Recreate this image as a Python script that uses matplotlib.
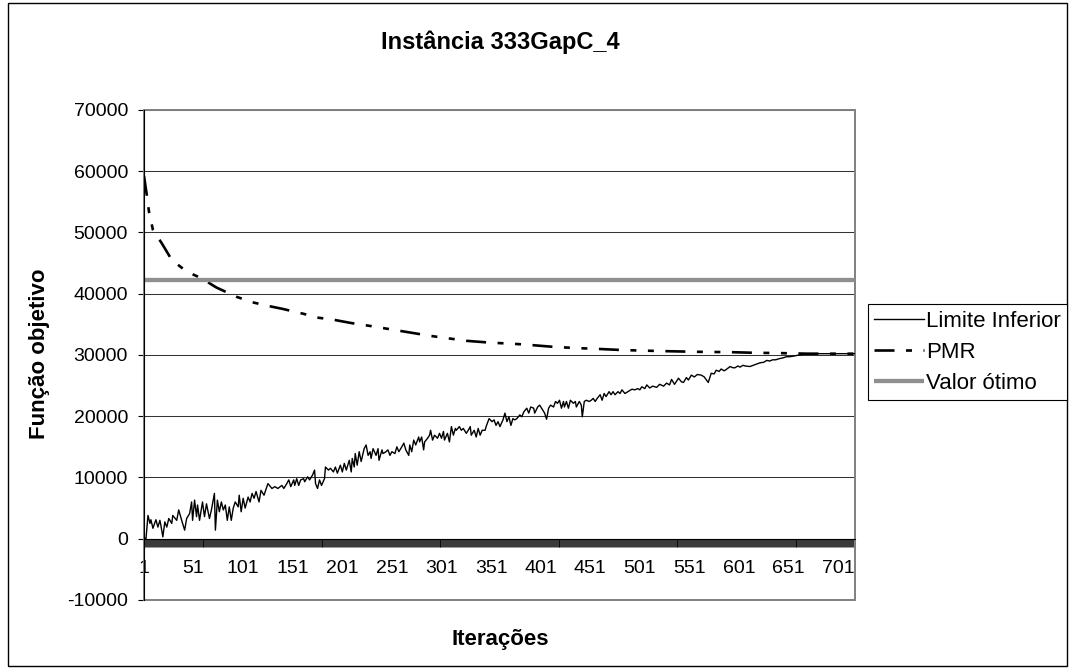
import matplotlib
matplotlib.use('Agg')
import matplotlib.pyplot as plt
from matplotlib.patches import Rectangle
from matplotlib.ticker import FixedLocator, NullFormatter

plt.rcParams['font.family'] = ['Liberation Sans', 'DejaVu Sans']
plt.rcParams['lines.scale_dashes'] = False

# ---------------- data ----------------
title = "Instância 333GapC_4"
x_title = "Iterações"
y_title = "Função objetivo"
series_names = ["Limite Inferior", "PMR", "Valor ótimo"]

n_iter = 718
x_tick_labels = [1, 51, 101, 151, 201, 251, 301, 351, 401, 451, 501, 551, 601, 651, 701]
y_ticks = [-10000, 0, 10000, 20000, 30000, 40000, 50000, 60000, 70000]

lb_iter = [1, 3, 5, 7, 8, 10, 13, 15, 17, 18, 20, 22, 24, 26, 29, 30, 34, 36, 39, 42,
           44, 47, 49, 50, 52, 54, 55, 57, 60, 62, 64, 67, 69, 72, 73, 75, 77, 79, 81, 83,
           85, 87, 89, 91, 93, 96, 97, 99, 101, 103, 106, 108, 110, 112, 114, 117, 119, 122,
           125, 126, 130, 133, 136, 140, 142, 145, 147, 149, 152, 153, 155, 157, 159, 162, 163,
           166, 168, 171, 173, 174, 176, 178, 180, 183, 184, 187, 189, 192, 194, 196, 199, 201,
           203, 205, 208, 210, 211, 213, 214, 216, 218, 220, 223, 225, 227, 229, 230, 232, 235,
           237, 238, 241, 242, 245, 247, 249, 251, 254,
           256, 258, 261, 263, 265, 268, 269, 271, 273, 275, 278, 279, 281, 283, 284, 287, 289,
           290, 292, 294, 297, 299, 301, 303, 304, 307, 309, 311, 313, 315, 316, 319, 321, 323,
           326, 328, 330, 331, 334, 336, 338, 340, 342, 345, 346, 349, 352, 354, 356, 358, 360,
           363, 365, 367, 369, 371, 373, 375, 377, 380,
           382, 384, 387, 389, 391, 394, 395, 398, 400, 403, 405, 407, 409, 411, 414, 416, 418,
           420, 422, 424, 425, 427, 429, 431, 434, 436, 437, 440, 442, 443, 445, 447, 450, 452,
           454, 456, 458, 461, 463, 465, 467, 470, 472, 474, 476, 479, 481, 483, 486, 489, 491,
           493, 496, 499, 501, 503, 506,
           508, 511, 514, 518, 521, 525, 528, 531, 533, 536, 540, 543, 545, 548, 550, 553, 556,
           559, 563, 566, 570, 573, 576, 578, 581, 583, 586, 588, 592, 595, 597, 600, 602, 605,
           607, 612, 617, 622, 626, 629, 632, 635, 638, 642, 645, 649, 652, 656, 659, 662, 666,
           669, 675, 682, 690, 700, 710, 718]
lb_values = [200, 0, 3800, 2500, 3100, 1700, 3100, 1900, 3000, 2200, 300, 2750, 1900, 3300, 2500, 3800, 3000, 4700, 3000, 1400,
             3300, 4100, 6000, 3000, 6300, 3600, 5500, 3000, 6000, 3600, 5700, 3300, 4700, 7400, 1400, 6300, 4400, 6000, 4700, 5500,
             3000, 5200, 3000, 5000, 6000, 5200, 7100, 4400, 6600, 5000, 6800, 6000, 7400, 6600, 7700, 6000, 7900, 7100,
             8500, 9000, 8200, 8500, 8200, 8700, 8200, 9000, 9600, 8500, 9600, 8700, 9800, 8700, 9600, 9800, 9300,
             10100, 9600, 10400, 11200, 9000, 8200, 9600, 8700, 9800, 11700, 11200, 11500, 10900, 11700, 10700, 12000, 10900,
             12300, 11200, 12800, 10900, 13100, 11700, 13900, 12000, 14200, 12600, 14700, 15300, 13600, 14200, 13100, 14700, 13600,
             14700, 12800, 14500, 13900, 14200, 14500, 13600, 14200, 13900,
             15000, 14200, 15000, 15600, 14500, 13600, 15300, 14200, 16100, 15300, 16600, 15800, 16600, 14500, 15800, 16400, 16900,
             17700, 16100, 16900, 16400, 17200, 16400, 17500, 16100, 17200, 15800, 18300, 16900, 18000, 17700, 18300, 17700, 18000,
             17200, 17700, 18300, 16900, 17700, 16600, 18000, 16900, 17700, 17700, 18300, 19600, 19100, 19400, 18500, 19100, 18300,
             19400, 20500, 19100, 19900, 18500, 19600, 19400, 19600, 20200,
             19900, 20700, 21300, 20500, 21500, 21300, 20500, 21500, 21800, 21000, 20500, 19500, 21300, 21800, 21500, 22400, 22100,
             22600, 21300, 22400, 21500, 22400, 21300, 22600, 22100, 22400, 21500, 22400, 21800, 19900, 22400, 22600, 22400, 22600,
             22900, 22400, 22900, 23500, 22600, 23700, 23200, 24000, 23500, 24000, 23500, 24000, 23700, 24300, 23700, 24000, 24200,
             24400, 24300, 24500, 24300, 24800, 24500,
             25100, 24600, 24900, 24700, 25200, 24900, 25400, 25100, 26000, 25200, 26200, 25600, 25500, 26300, 25900, 26700, 26400,
             26800, 26700, 26400, 25500, 27000, 26900, 27500, 27300, 27700, 27400, 27600, 28100, 27900, 27900, 28200, 28000, 28300,
             28200, 28100, 28400, 28700, 28800, 29100, 29000, 29200, 29200, 29400, 29500, 29700, 29700, 29800, 29900, 30000, 30100,
             30100, 30200, 30200, 30200, 30200, 30200, 30200]

pmr_iter = [1, 4, 6, 10, 19, 29, 44, 59, 74, 94, 110, 126, 141, 162, 175, 190, 210, 230, 260, 290,
            326, 350, 375, 392, 415, 439, 456, 482, 504, 530, 560, 592, 615, 640, 670, 700, 718]
pmr_values = [59200, 55900, 53400, 50400, 48200, 45500, 43600, 42500, 41000, 39500, 38600, 38000, 37500, 36700,
              36100, 35800, 35200, 34700, 33900, 33100, 32300, 32000, 31800, 31600, 31300, 31100, 31000, 30800,
              30700, 30600, 30500, 30450, 30350, 30300, 30200, 30200, 30200]

optimum_iter = [1, 718]
optimum_values = [42200, 42200]

# ---------------- figure ----------------
W, H = 1070, 668
fig = plt.figure(figsize=(W / 100, H / 100), dpi=100)
fig.patch.set_facecolor('white')

# outer chart border
fig.patches.append(Rectangle((8 / W, 1 - 666 / H), (1067 - 8) / W, (666 - 3) / H,
                             transform=fig.transFigure, fill=False, edgecolor='black',
                             linewidth=1.0))

ax = fig.add_axes([144 / W, 1 - 600 / H, 711 / W, (600 - 109.8) / H])
ax.set_xlim(1, n_iter)
ax.set_ylim(y_ticks[0], y_ticks[-1])

ax.plot(lb_iter, lb_values, color='black', lw=1.0, zorder=3, label=series_names[0])
ax.plot(pmr_iter, pmr_values, color='black', lw=1.9, zorder=4, label=series_names[1],
        linestyle=(0, (14.4, 8.3, 4.3, 8.3, 4.3, 8.3)), dash_capstyle='butt')
ax.plot(optimum_iter, optimum_values, color='#8f8f8f', lw=3.1, zorder=5, label=series_names[2],
        solid_capstyle='butt')

# gridlines and plot-area frame
ax.set_yticks(y_ticks)
ax.set_yticklabels([str(v) for v in y_ticks])
ax.yaxis.grid(True, color='#333333', lw=0.75, zorder=1)
ax.set_axisbelow(True)
ax.add_patch(Rectangle((0, 0), 1, 1, transform=ax.transAxes, fill=False,
                       edgecolor='#808080', lw=1.4, zorder=1.6, clip_on=False))

for s in ['top', 'right']:
    ax.spines[s].set_visible(False)
ax.spines['left'].set_color('black')
ax.spines['left'].set_linewidth(0.8)
ax.spines['left'].set_zorder(6)
ax.spines['bottom'].set_position(('data', 0))
ax.spines['bottom'].set_color('black')
ax.spines['bottom'].set_linewidth(0.8)
ax.spines['bottom'].set_zorder(6)

ax.xaxis.set_major_locator(FixedLocator(x_tick_labels))
ax.set_xticklabels([str(v) for v in x_tick_labels])
ax.xaxis.set_minor_locator(FixedLocator(list(range(1, n_iter + 1))))
ax.xaxis.set_minor_formatter(NullFormatter())
ax.tick_params(axis='x', which='both', direction='out', length=5.4, width=0.55,
               color='black', pad=10, labelsize=14)
ax.tick_params(axis='y', direction='out', length=4.2, width=0.8, color='black',
               pad=7.3, labelsize=14)

# texts
fig.text(500 / W, 1 - 42 / H, title, ha='center', va='center', fontsize=17, fontweight='bold')
fig.text(500 / W, 1 - 640 / H, x_title, ha='center', va='center', fontsize=16, fontweight='bold')
fig.text(40 / W, 1 - 354 / H, y_title, ha='center', va='center', rotation=90,
         fontsize=16, fontweight='bold')

handles, labels = ax.get_legend_handles_labels()
leg = fig.legend(handles, labels, loc='upper left',
                 bbox_to_anchor=(867.7 / W, 1 - 304.3 / H), borderaxespad=0,
                 frameon=True, fancybox=False, edgecolor='black', framealpha=1,
                 fontsize=16, handlelength=2.25, handletextpad=0.08,
                 borderpad=0.28, labelspacing=0.45)
leg.get_frame().set_linewidth(0.8)

fig.savefig('out.png', dpi=100, facecolor='white')
